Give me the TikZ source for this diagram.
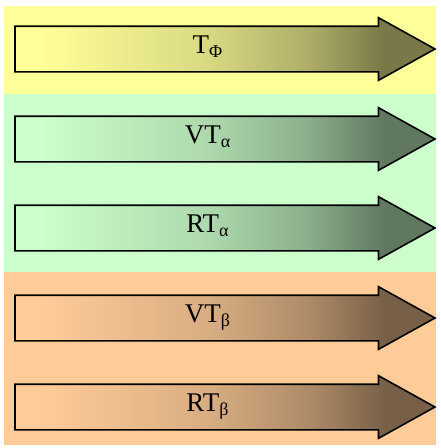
\documentclass[tikz,border=0pt]{standalone}
\usepackage{fontspec}
\setmainfont{Liberation Serif}
\usetikzlibrary{shapes.arrows}

\definecolor{bandyellow}{HTML}{FFFF99}
\definecolor{bandgreen}{HTML}{CCFFCC}
\definecolor{bandorange}{HTML}{FFCC99}

% shading: flat band colour on the left, dark towards the head
\colorlet{fadefrom}{white}
\colorlet{fadeone}{gray}
\colorlet{fadetwo}{gray}
\colorlet{fadeto}{black}
\pgfdeclarehorizontalshading[fadefrom,fadeone,fadetwo,fadeto]{arrowfade}{100bp}{%
  color(0bp)=(fadefrom); color(28bp)=(fadefrom);
  color(48bp)=(fadeone); color(60bp)=(fadetwo);
  color(69bp)=(fadeto); color(100bp)=(fadeto)}

\newcommand{\sublabel}[2]{{\fontsize{27}{30}\selectfont #1\raisebox{-4pt}{\fontsize{18}{20}\selectfont #2}}}

\tikzset{
  band arrow/.style={single arrow, draw=black, line width=1.6pt,
    minimum height=420pt, text height=22pt, text depth=22pt,
    single arrow head extend=8.5pt, single arrow tip angle=58,
    inner sep=0pt, outer sep=0pt, anchor=tail, shade, shading=arrowfade,
    /utils/exec={\colorlet{fadefrom}{#1}\colorlet{fadeone}{#1!85!black}%
      \colorlet{fadetwo}{#1!68!black}\colorlet{fadeto}{#1!47!black}}},
  arrow text/.style={anchor=base, inner sep=0pt}
}

\begin{document}
\begin{tikzpicture}[x=1pt, y=-1pt]
  \useasboundingbox (0,0) rectangle (440,448);

  % background bands
  \fill[bandyellow] (4,6)   rectangle (436,94);
  \fill[bandgreen]  (4,94)  rectangle (436,272);
  \fill[bandorange] (4,272) rectangle (436,445);

  % arrows
  \node[band arrow=bandyellow] (tphi)   at (15,49)  {};
  \node[band arrow=bandgreen]  (vtalfa) at (15,139) {};
  \node[band arrow=bandgreen]  (rtalfa) at (15,228) {};
  \node[band arrow=bandorange] (vtbeta) at (15,318) {};
  \node[band arrow=bandorange] (rtbeta) at (15,407) {};

  % labels
  \node[arrow text] (tphi text)   at (207.5,53)  {\sublabel{T}{Φ}};
  \node[arrow text] (vtalfa text) at (207.5,143) {\sublabel{VT}{α}};
  \node[arrow text] (rtalfa text) at (207.5,232) {\sublabel{RT}{α}};
  \node[arrow text] (vtbeta text) at (207.5,322) {\sublabel{VT}{β}};
  \node[arrow text] (rtbeta text) at (207.5,411) {\sublabel{RT}{β}};
\end{tikzpicture}
\end{document}
